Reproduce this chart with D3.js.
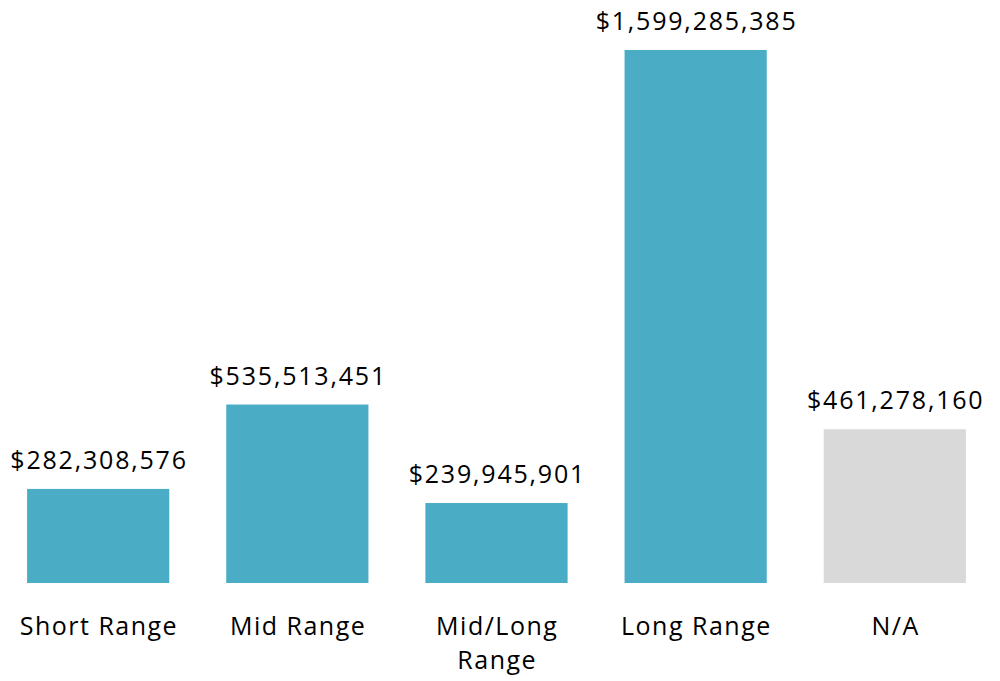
<!DOCTYPE html>
<html><head><meta charset="utf-8">
<script src="https://cdn.jsdelivr.net/npm/d3@7"></script>
<style>body{margin:0;background:#fff}svg{display:block}</style>
</head><body>
<script>
const categories = ["Short Range", "Mid Range", "Mid/Long Range", "Long Range", "N/A"];
const labelLines = [["Short Range"], ["Mid Range"], ["Mid/Long", "Range"], ["Long Range"], ["N/A"]];
const values = [282308576, 535513451, 239945901, 1599285385, 461278160];
const colors = ["#4BACC6", "#4BACC6", "#4BACC6", "#4BACC6", "#D9D9D9"];

const W = 1000, H = 681;
const svg = d3.select("body").append("svg").attr("width", W).attr("height", H);
const x = d3.scaleBand().domain(categories).range([0, 993]).paddingInner(0.286).paddingOuter(0.136);
const y = d3.scaleLinear().domain([0, 1599285385]).range([583, 50]);
const fmt = v => "$" + d3.format(",")(v);
const font = "'Open Sans', sans-serif";
const lsVal = 1.8, lsCat = 1.5;

svg.selectAll("rect.bar").data(values).join("rect")
  .attr("x", (d, i) => x(categories[i]))
  .attr("y", d => y(d))
  .attr("width", x.bandwidth())
  .attr("height", d => y(0) - y(d))
  .attr("fill", (d, i) => colors[i]);

svg.selectAll("text.val").data(values).join("text")
  .attr("class", "val")
  .attr("x", (d, i) => x(categories[i]) + x.bandwidth() / 2 + lsVal / 2)
  .attr("y", d => y(d) - 20)
  .attr("text-anchor", "middle")
  .attr("font-family", font).attr("font-size", 25).attr("letter-spacing", lsVal)
  .attr("fill", "#000")
  .text(d => fmt(d));

const lab = svg.selectAll("text.cat").data(categories).join("text")
  .attr("class", "cat")
  .attr("y", 635)
  .attr("text-anchor", "middle")
  .attr("font-family", font).attr("font-size", 25).attr("letter-spacing", lsCat)
  .attr("fill", "#000");
lab.each(function(d, i) {
  d3.select(this).selectAll("tspan").data(labelLines[i]).join("tspan")
    .attr("x", x(d) + x.bandwidth() / 2 + lsCat / 2)
    .attr("dy", (t, j) => j === 0 ? 0 : 34)
    .text(t => t);
});
</script>
</body></html>
